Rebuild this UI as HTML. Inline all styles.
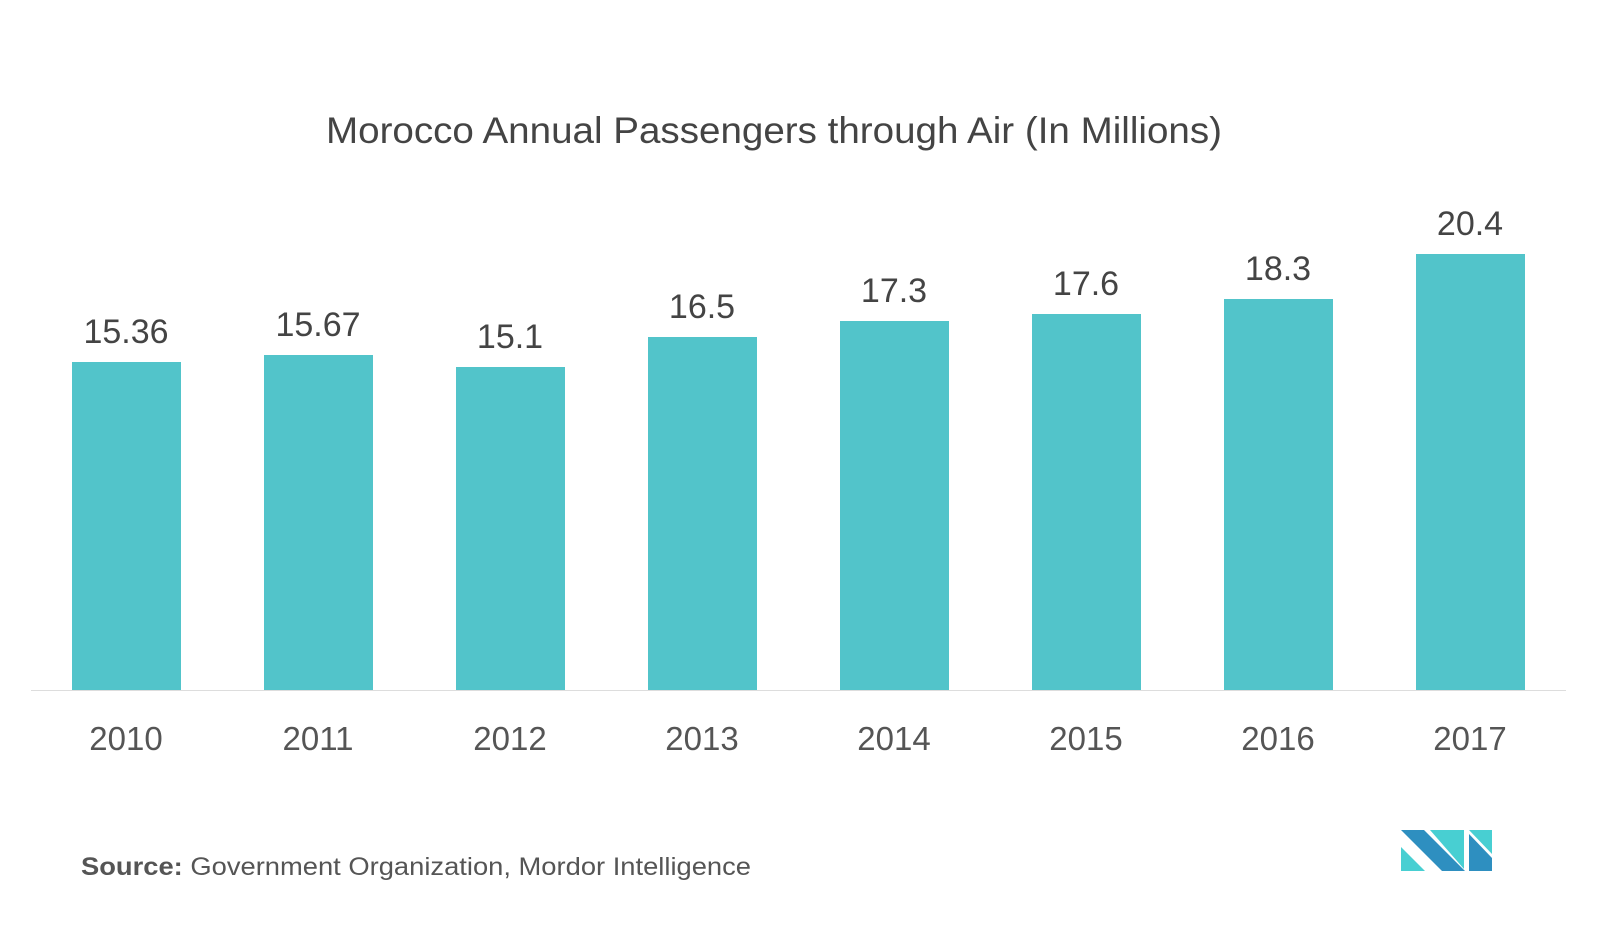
<!DOCTYPE html>
<html><head><style>
body{margin:0;background:#fff;width:1616px;height:937px;overflow:hidden;font-family:"Liberation Sans",sans-serif}
</style></head><body>
<svg width="1616" height="937" xmlns="http://www.w3.org/2000/svg" font-family="Liberation Sans, sans-serif">
<text x="774" y="143" text-anchor="middle" font-size="37" fill="#444" textLength="896" lengthAdjust="spacingAndGlyphs">Morocco Annual Passengers through Air (In Millions)</text>
<g fill="#52c4ca">
<rect x="72" y="362" width="109" height="328"/>
<rect x="264" y="355" width="109" height="335"/>
<rect x="456" y="367" width="109" height="323"/>
<rect x="648" y="337" width="109" height="353"/>
<rect x="840" y="321" width="109" height="369"/>
<rect x="1032" y="314" width="109" height="376"/>
<rect x="1224" y="299" width="109" height="391"/>
<rect x="1416" y="254" width="109" height="436"/>
</g>
<line x1="31" y1="690.5" x2="1566" y2="690.5" stroke="#ddd" stroke-width="1"/>
<g font-size="34" fill="#444" text-anchor="middle">
<text x="126" y="343">15.36</text>
<text x="318" y="336">15.67</text>
<text x="510" y="348">15.1</text>
<text x="702" y="318">16.5</text>
<text x="894" y="302">17.3</text>
<text x="1086" y="295">17.6</text>
<text x="1278" y="280">18.3</text>
<text x="1470" y="235">20.4</text>
</g>
<g font-size="33" fill="#555" text-anchor="middle">
<text x="126" y="750">2010</text>
<text x="318" y="750">2011</text>
<text x="510" y="750">2012</text>
<text x="702" y="750">2013</text>
<text x="894" y="750">2014</text>
<text x="1086" y="750">2015</text>
<text x="1278" y="750">2016</text>
<text x="1470" y="750">2017</text>
</g>
<text x="81" y="875" font-size="25" fill="#555" textLength="670" lengthAdjust="spacingAndGlyphs"><tspan font-weight="bold">Source:</tspan> Government Organization, Mordor Intelligence</text>
<g>
<polygon points="1401,830 1424,830 1465,871 1442,871" fill="#2e8fc0"/>
<polygon points="1401,847 1425,871 1401,871" fill="#48cfd2"/>
<polygon points="1430,830 1464,830 1464,869" fill="#48cfd2"/>
<polygon points="1469,830 1492,830 1492,854" fill="#48cfd2"/>
<polygon points="1469,834 1492,858 1492,871 1469,871" fill="#2e8fc0"/>
</g>
</svg>
</body></html>
